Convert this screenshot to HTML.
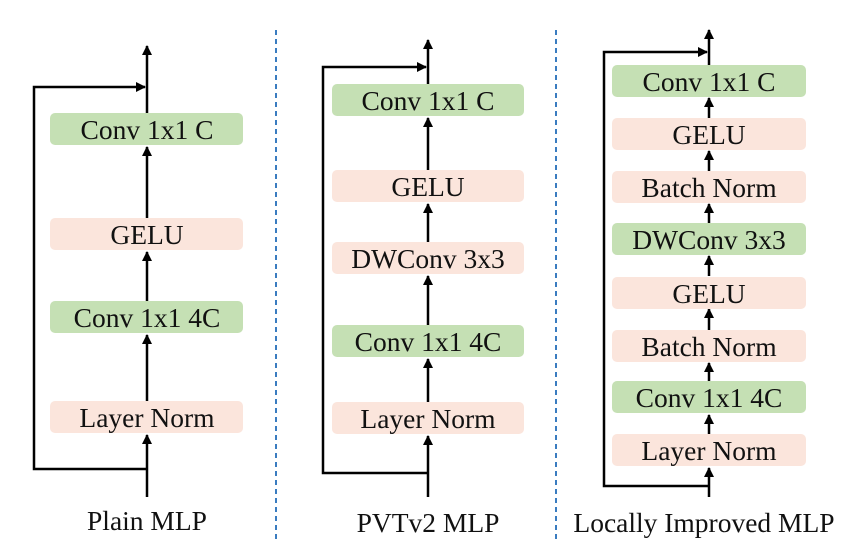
<!DOCTYPE html>
<html><head><meta charset="utf-8"><style>
html,body{margin:0;padding:0;background:#fff}
svg{display:block}
text{font-family:"Liberation Serif","Times New Roman",serif;font-size:27.5px;fill:#111;text-anchor:middle}
</style></head><body>
<svg width="856" height="560" viewBox="0 0 856 560" xmlns="http://www.w3.org/2000/svg">
<defs>
<marker id="a" markerWidth="10" markerHeight="14" refX="9" refY="5" orient="auto" markerUnits="userSpaceOnUse" viewBox="0 0 10 10">
<path d="M0,0 L10,5 L0,10 z" fill="#000"/></marker>
</defs>
<g stroke="#3a7cc0" stroke-width="2" stroke-dasharray="5,4">
<line x1="276" y1="30" x2="276" y2="540"/>
<line x1="556" y1="30" x2="556" y2="540"/>
</g>
<g stroke="#000" stroke-width="2.5" fill="none">
<polyline points="147,469 34,469 34,87 145,87" marker-end="url(#a)"/>
<line x1="147" y1="497" x2="147" y2="435" marker-end="url(#a)"/>
<line x1="147" y1="401" x2="147" y2="335" marker-end="url(#a)"/>
<line x1="147" y1="301" x2="147" y2="252" marker-end="url(#a)"/>
<line x1="147" y1="218" x2="147" y2="147" marker-end="url(#a)"/>
<line x1="147" y1="113" x2="147" y2="46" marker-end="url(#a)"/>
<polyline points="428,473 323,473 323,67 426,67" marker-end="url(#a)"/>
<line x1="428" y1="497" x2="428" y2="436" marker-end="url(#a)"/>
<line x1="428" y1="402" x2="428" y2="359" marker-end="url(#a)"/>
<line x1="428" y1="325" x2="428" y2="276" marker-end="url(#a)"/>
<line x1="428" y1="242" x2="428" y2="204" marker-end="url(#a)"/>
<line x1="428" y1="170" x2="428" y2="118" marker-end="url(#a)"/>
<line x1="428" y1="84" x2="428" y2="40" marker-end="url(#a)"/>
<polyline points="709,486 604,486 604,52 707,52" marker-end="url(#a)"/>
<line x1="709" y1="497" x2="709" y2="468" marker-end="url(#a)"/>
<line x1="709" y1="434" x2="709" y2="415" marker-end="url(#a)"/>
<line x1="709" y1="381" x2="709" y2="363" marker-end="url(#a)"/>
<line x1="709" y1="330" x2="709" y2="309" marker-end="url(#a)"/>
<line x1="709" y1="276" x2="709" y2="256" marker-end="url(#a)"/>
<line x1="709" y1="223" x2="709" y2="204" marker-end="url(#a)"/>
<line x1="709" y1="171" x2="709" y2="151" marker-end="url(#a)"/>
<line x1="709" y1="118" x2="709" y2="98" marker-end="url(#a)"/>
<line x1="709" y1="65" x2="709" y2="30" marker-end="url(#a)"/>
</g>
<g>
<rect x="50" y="113" width="193" height="32" rx="5" fill="#c5e0b4"/>
<rect x="50" y="218" width="193" height="32" rx="5" fill="#fbe5dc"/>
<rect x="50" y="301" width="193" height="32" rx="5" fill="#c5e0b4"/>
<rect x="50" y="401" width="193" height="32" rx="5" fill="#fbe5dc"/>
<rect x="332" y="84" width="192" height="32" rx="5" fill="#c5e0b4"/>
<rect x="332" y="170" width="192" height="32" rx="5" fill="#fbe5dc"/>
<rect x="332" y="242" width="192" height="32" rx="5" fill="#fbe5dc"/>
<rect x="332" y="325" width="192" height="32" rx="5" fill="#c5e0b4"/>
<rect x="332" y="402" width="192" height="32" rx="5" fill="#fbe5dc"/>
<rect x="612" y="65" width="194" height="32" rx="5" fill="#c5e0b4"/>
<rect x="612" y="118" width="194" height="32" rx="5" fill="#fbe5dc"/>
<rect x="612" y="171" width="194" height="32" rx="5" fill="#fbe5dc"/>
<rect x="612" y="223" width="194" height="32" rx="5" fill="#c5e0b4"/>
<rect x="612" y="277" width="194" height="32" rx="5" fill="#fbe5dc"/>
<rect x="612" y="330" width="194" height="32" rx="5" fill="#fbe5dc"/>
<rect x="612" y="381" width="194" height="32" rx="5" fill="#c5e0b4"/>
<rect x="612" y="434" width="194" height="32" rx="5" fill="#fbe5dc"/>
</g>
<g>
<text x="147" y="139">Conv 1x1 C</text>
<text x="147" y="244">GELU</text>
<text x="147" y="327">Conv 1x1 4C</text>
<text x="147" y="427">Layer Norm</text>
<text x="428" y="110">Conv 1x1 C</text>
<text x="428" y="196">GELU</text>
<text x="428" y="268">DWConv 3x3</text>
<text x="428" y="351">Conv 1x1 4C</text>
<text x="428" y="428">Layer Norm</text>
<text x="709" y="91">Conv 1x1 C</text>
<text x="709" y="144">GELU</text>
<text x="709" y="197">Batch Norm</text>
<text x="709" y="249">DWConv 3x3</text>
<text x="709" y="303">GELU</text>
<text x="709" y="356">Batch Norm</text>
<text x="709" y="407">Conv 1x1 4C</text>
<text x="709" y="460">Layer Norm</text>
<text x="147" y="530">Plain MLP</text>
<text x="428" y="532">PVTv2 MLP</text>
<text x="704" y="532">Locally Improved MLP</text>
</g>
</svg>
</body></html>
